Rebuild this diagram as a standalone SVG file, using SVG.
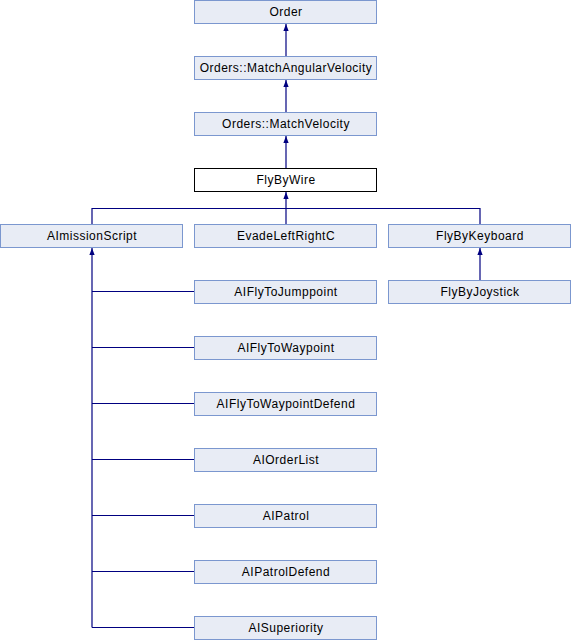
<svg xmlns="http://www.w3.org/2000/svg" width="572" height="640" viewBox="0 0 572 640">
<defs>
<style>
.n rect{fill:#e8ecf5;stroke:#7b97cf;stroke-width:1}
.n.cur rect{fill:#ffffff;stroke:#000000}
.n text{font-family:"Liberation Sans",Arial,sans-serif;font-size:12px;font-weight:400;letter-spacing:0.5px;fill:#000;text-anchor:middle}
.e{fill:none;stroke:#000080;stroke-width:1.2}
</style>
<marker id="ah" viewBox="0 0 8 8" refX="8" refY="4" markerWidth="7" markerHeight="7" markerUnits="userSpaceOnUse" orient="auto">
<path d="M0,1 L8,4 L0,7 Z" fill="#000080"/>
</marker>
</defs>
<rect width="572" height="640" fill="#ffffff"/>
<g id="connectors">
<path class="e" d="M286,56 V24" marker-end="url(#ah)"/>
<path class="e" d="M286,112 V80" marker-end="url(#ah)"/>
<path class="e" d="M286,168 V136" marker-end="url(#ah)"/>
<path class="e" d="M286,224 V192" marker-end="url(#ah)"/>
<path class="e" d="M92,224 V208.5 H480 V224"/>
<path class="e" d="M480,280 V248" marker-end="url(#ah)"/>
<path class="e" d="M92,627.5 V248" marker-end="url(#ah)"/>
<path class="e" d="M92,291.5 H194 M92,347.5 H194 M92,403.5 H194 M92,459.5 H194 M92,515.5 H194 M92,571.5 H194 M92,627.5 H194"/>
</g>
<g id="Order" class="n"><rect x="194.5" y="0.5" width="182" height="23"/><text x="286" y="16">Order</text></g>
<g id="MatchAngularVelocity" class="n"><rect x="194.5" y="56.5" width="182" height="23"/><text x="286" y="72">Orders::MatchAngularVelocity</text></g>
<g id="MatchVelocity" class="n"><rect x="194.5" y="112.5" width="182" height="23"/><text x="286" y="128">Orders::MatchVelocity</text></g>
<g id="FlyByWire" class="n cur"><rect x="194.5" y="168.5" width="182" height="23"/><text x="286" y="184">FlyByWire</text></g>
<g id="AImissionScript" class="n"><rect x="0.5" y="224.5" width="182" height="23"/><text x="92" y="240">AImissionScript</text></g>
<g id="EvadeLeftRightC" class="n"><rect x="194.5" y="224.5" width="182" height="23"/><text x="286" y="240">EvadeLeftRightC</text></g>
<g id="FlyByKeyboard" class="n"><rect x="388.5" y="224.5" width="182" height="23"/><text x="480" y="240">FlyByKeyboard</text></g>
<g id="FlyByJoystick" class="n"><rect x="388.5" y="280.5" width="182" height="23"/><text x="480" y="296">FlyByJoystick</text></g>
<g id="AIFlyToJumppoint" class="n"><rect x="194.5" y="280.5" width="182" height="23"/><text x="286" y="296">AIFlyToJumppoint</text></g>
<g id="AIFlyToWaypoint" class="n"><rect x="194.5" y="336.5" width="182" height="23"/><text x="286" y="352">AIFlyToWaypoint</text></g>
<g id="AIFlyToWaypointDefend" class="n"><rect x="194.5" y="392.5" width="182" height="23"/><text x="286" y="408">AIFlyToWaypointDefend</text></g>
<g id="AIOrderList" class="n"><rect x="194.5" y="448.5" width="182" height="23"/><text x="286" y="464">AIOrderList</text></g>
<g id="AIPatrol" class="n"><rect x="194.5" y="504.5" width="182" height="23"/><text x="286" y="520">AIPatrol</text></g>
<g id="AIPatrolDefend" class="n"><rect x="194.5" y="560.5" width="182" height="23"/><text x="286" y="576">AIPatrolDefend</text></g>
<g id="AISuperiority" class="n"><rect x="194.5" y="616.5" width="182" height="23"/><text x="286" y="632">AISuperiority</text></g>
</svg>
